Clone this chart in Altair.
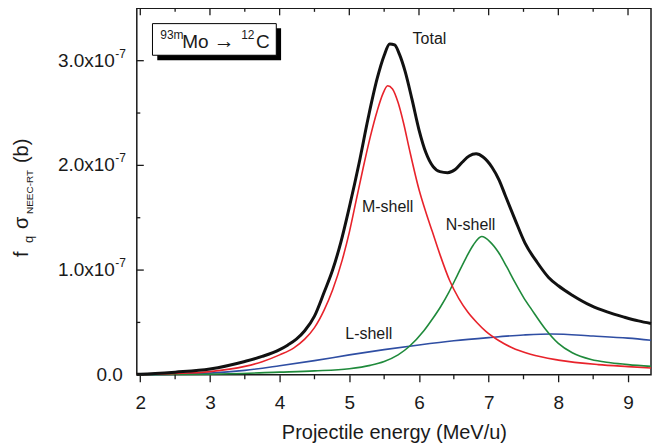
import altair as alt
import pandas as pd

# ---- data (y values in units of 1e-7 b) ----
E_TOTAL = [1.95, 2.0, 2.5, 3.0, 3.5, 3.75, 4.0, 4.12, 4.24, 4.36, 4.5, 4.64, 4.76, 4.88, 5.0, 5.14,
           5.27, 5.4, 5.5, 5.58, 5.65, 5.72, 5.8, 5.9, 6.0, 6.1, 6.2, 6.3, 6.41, 6.52, 6.62, 6.72,
           6.82, 6.92, 7.05, 7.15, 7.24, 7.38, 7.52, 7.7, 7.86, 8.0, 8.2, 8.47, 8.7, 8.95, 9.15, 9.33]
TOTAL = [0.004, 0.005, 0.025, 0.055, 0.127, 0.175, 0.24, 0.285, 0.34, 0.42, 0.56, 0.79, 1.0, 1.27,
         1.6, 2.02, 2.45, 2.83, 3.05, 3.16, 3.15, 3.06, 2.9, 2.63, 2.34, 2.12, 1.99, 1.94, 1.93, 1.96,
         2.03, 2.09, 2.11, 2.08, 1.98, 1.86, 1.71, 1.48, 1.26, 1.07, 0.93, 0.85, 0.76, 0.66, 0.6, 0.55,
         0.515, 0.49]

E_M = [1.95, 2.0, 2.5, 3.0, 3.5, 3.75, 4.0, 4.2, 4.36, 4.5, 4.64, 4.76, 4.9, 5.0, 5.1, 5.2, 5.3, 5.4,
       5.48, 5.55, 5.62, 5.7, 5.78, 5.86, 6.0, 6.1, 6.19, 6.3, 6.44, 6.57, 6.7, 6.83, 6.96, 7.15,
       7.33, 7.6, 8.0, 8.57, 9.0, 9.33]
M_SHELL = [0.002, 0.003, 0.012, 0.03, 0.08, 0.125, 0.19, 0.255, 0.34, 0.45, 0.62, 0.81, 1.1, 1.36,
           1.67, 1.98, 2.27, 2.52, 2.68, 2.76, 2.73, 2.6, 2.4, 2.16, 1.77, 1.55, 1.37, 1.15, 0.9, 0.73,
           0.6, 0.5, 0.415, 0.325, 0.26, 0.195, 0.14, 0.097, 0.078, 0.065]

E_L = [1.95, 2.0, 2.5, 3.0, 3.5, 4.0, 4.5, 5.0, 5.5, 6.0, 6.5, 7.0, 7.5, 7.9, 8.5, 9.0, 9.33]
L_SHELL = [0.0, 0.001, 0.006, 0.016, 0.042, 0.086, 0.135, 0.19, 0.24, 0.285, 0.325, 0.355, 0.38, 0.39,
           0.37, 0.35, 0.33]

E_N = [1.95, 2.0, 3.0, 4.0, 4.5, 5.0, 5.3, 5.5, 5.7, 5.86, 6.07, 6.19, 6.31, 6.43, 6.55, 6.67, 6.78,
       6.9, 7.02, 7.14, 7.26, 7.38, 7.5, 7.62, 7.81, 8.0, 8.2, 8.47, 8.75, 9.0, 9.33]
N_SHELL = [0.0, 0.0, 0.005, 0.025, 0.037, 0.058, 0.09, 0.127, 0.19, 0.27, 0.42, 0.53, 0.65, 0.79, 0.95,
           1.11, 1.24, 1.32, 1.27, 1.17, 1.03, 0.88, 0.74, 0.62, 0.44, 0.3, 0.21, 0.145, 0.115, 0.097, 0.08]

SERIES = ["L-shell", "N-shell", "M-shell", "Total"]
COLORS = ["#2f4ea3", "#1f8a3b", "#e8232b", "#111111"]

X_MAJOR = [2, 3, 4, 5, 6, 7, 8, 9]
X_MINOR = [2.5, 3.5, 4.5, 5.5, 6.5, 7.5, 8.5]
Y_MAJOR = [0, 1, 2, 3]
Y_MINOR = [0.5, 1.5, 2.5]
Y_LABELS = ["0.0", "1.0x10", "2.0x10", "3.0x10"]
Y_SUP = ["", "-7", "-7", "-7"]

ANN_TEXT = ["Total", "M-shell", "N-shell", "L-shell"]
ANN_E = [6.15, 5.55, 6.74, 5.28]
ANN_V = [3.21, 1.60, 1.43, 0.39]

FONT = "Liberation Sans"
INK = "#1a1a1a"
W, H = 515, 367

xs = alt.Scale(domain=[1.95, 9.33], nice=False, zero=False)
ys = alt.Scale(domain=[0, 3.5], nice=False, zero=False)

x_axis = alt.Axis(values=X_MAJOR, title="Projectile energy (MeV/u)", format="d",
                  domain=False, grid=False, tickSize=7, tickWidth=1.3, tickColor=INK,
                  labelFont=FONT, labelFontSize=19, labelColor=INK, labelPadding=12,
                  titleFont=FONT, titleFontSize=20, titleFontWeight="normal", titleColor=INK,
                  titlePadding=10)


def X():
    return alt.X("E:Q", scale=xs, axis=x_axis)


def Y():
    return alt.Y("v:Q", scale=ys, axis=None)


def series(name, e, v):
    return pd.DataFrame({"E": e, "v": v, "s": name})


shells = pd.concat([series("L-shell", E_L, L_SHELL),
                    series("N-shell", E_N, N_SHELL),
                    series("M-shell", E_M, M_SHELL)])
total = series("Total", E_TOTAL, TOTAL)

color = alt.Color("s:N", scale=alt.Scale(domain=SERIES, range=COLORS), legend=None)

shell_lines = alt.Chart(shells).mark_line(strokeWidth=1.6, interpolate="monotone").encode(
    x=X(), y=Y(), color=color, detail="s:N")
total_line = alt.Chart(total).mark_line(strokeWidth=3, interpolate="monotone").encode(
    x=X(), y=Y(), color=color)


# mirror / minor ticks
def xrule(vals, y1, y2):
    return alt.Chart(pd.DataFrame({"E": vals})).mark_rule(color=INK, strokeWidth=1.3).encode(
        x=X(), y=alt.value(y1), y2=alt.value(y2))


def yrule(vals, x1, x2):
    return alt.Chart(pd.DataFrame({"v": vals})).mark_rule(color=INK, strokeWidth=1.3).encode(
        y=Y(), x=alt.value(x1), x2=alt.value(x2))


ticks = [xrule(X_MAJOR, 0, 7), xrule(X_MINOR, 0, 3.5), xrule(X_MINOR, H, H + 4.5),
         yrule(Y_MAJOR, 0, 7), yrule(Y_MINOR, 0, 3.5)]

# y tick labels
ylab = pd.DataFrame({"v": Y_MAJOR, "lab": Y_LABELS, "sup": Y_SUP})
ylab_main = alt.Chart(ylab).transform_filter("datum.sup != ''").mark_text(
    align="right", baseline="middle", font=FONT, fontSize=19, color=INK).encode(
    y=Y(), x=alt.value(-22), text="lab:N")
ylab_zero = alt.Chart(ylab).transform_filter("datum.sup == ''").mark_text(
    align="right", baseline="middle", font=FONT, fontSize=19, color=INK).encode(
    y=Y(), x=alt.value(-14), text="lab:N")
ylab_sup = alt.Chart(ylab).transform_filter("datum.sup != ''").mark_text(
    align="left", baseline="middle", font=FONT, fontSize=12, color=INK, dy=-7).encode(
    y=Y(), x=alt.value(-21.5), text="sup:N")

# curve annotations
ann = alt.Chart(pd.DataFrame({"E": ANN_E, "v": ANN_V, "t": ANN_TEXT})).mark_text(
    align="center", baseline="middle", font=FONT, fontSize=16, color=INK).encode(
    x=X(), y=Y(), text="t:N")

one = pd.DataFrame({"k": [0]})


def ptext(txt, x, y, size, angle=0, align="left"):
    kw = dict(align=align, baseline="alphabetic", font=FONT, fontSize=size, color=INK, text=txt)
    if angle:
        kw["angle"] = angle
    return alt.Chart(one).mark_text(**kw).encode(x=alt.value(x), y=alt.value(y))


# reaction box with shadow
shadow = alt.Chart(one).mark_rect(color="#000000").encode(
    x=alt.value(20.5), x2=alt.value(144.5), y=alt.value(20), y2=alt.value(52))
box = alt.Chart(one).mark_rect(fill="white", stroke="#000000", strokeWidth=1).encode(
    x=alt.value(15.7), x2=alt.value(139.7), y=alt.value(15.3), y2=alt.value(47))
box_text = [ptext("93m", 23.5, 30.5, 12), ptext("Mo", 45.5, 39.5, 19),
            ptext("\u2192", 77, 39.5, 21), ptext("12", 104.5, 30.5, 12), ptext("C", 119.5, 39.5, 19)]

# y title with subscripts (rotated)
ytitle = [ptext("f", -109, 249, 20, 270), ptext("q", -104, 235, 13, 270),
          ptext("\u03c3", -109, 221, 20, 270), ptext("NEEC-RT", -104, 206, 10, 270),
          ptext("(b)", -109, 155, 20, 270)]

chart = alt.layer(
    shell_lines, total_line, *ticks, ylab_main, ylab_zero, ylab_sup, ann,
    shadow, box, *box_text, *ytitle,
).properties(
    width=W, height=H,
    padding={"left": 129, "top": 0, "right": 5, "bottom": 69},
    autosize=alt.AutoSizeParams(type="none"),
).configure_view(stroke=INK, strokeWidth=1.5)

chart.save("out.html", embed_options={"renderer": "svg", "actions": False})
